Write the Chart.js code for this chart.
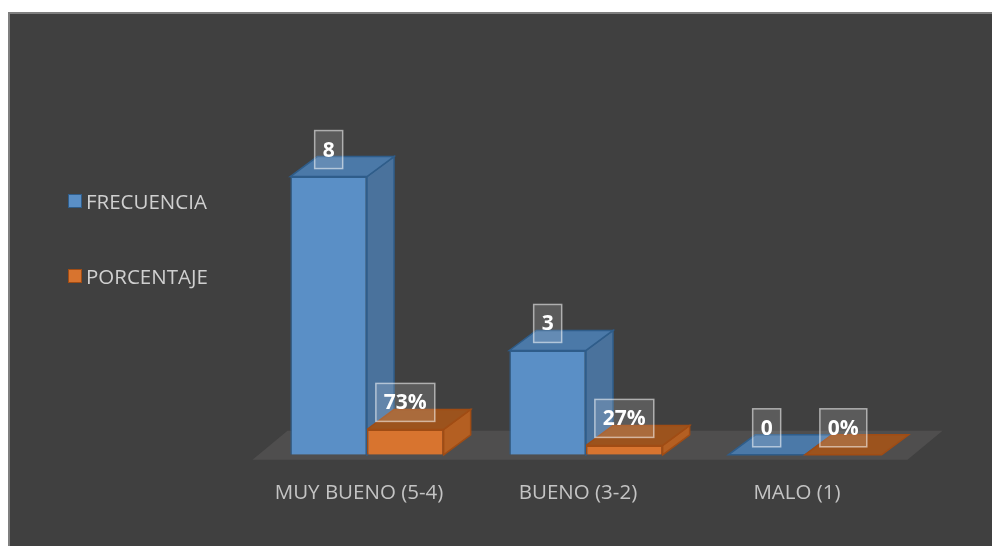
<!DOCTYPE html>
<html>
<head>
<meta charset="utf-8">
<script src="https://cdn.jsdelivr.net/npm/chart.js@4"></script>
<style>
  body { margin: 0; background: #ffffff; width: 992px; height: 546px; overflow: hidden; position: relative; }
  #frame { position: absolute; left: 8px; top: 12px; width: 1000px; height: 560px; background: #404040; border: 2px solid #7f7f7f; }
  #chart { position: absolute; left: 0; top: 0; }
  .leg { position: absolute; left: 68px; height: 22px; display: flex; align-items: center; font-family: "Open Sans", sans-serif; font-size: 20.5px; color: #d0d0d0; }
  .leg span { display: inline-block; width: 12px; height: 12px; border: 1.5px solid; margin-right: 4px; }
</style>
</head>
<body>
<div id="frame"></div>
<canvas id="chart" width="992" height="546"></canvas>
<div id="legend"></div>
<script>
// Datos del gráfico
var categories = ['MUY BUENO (5-4)', 'BUENO (3-2)', 'MALO (1)'];
var seriesNames = ['FRECUENCIA', 'PORCENTAJE'];
var frecuencia = [8, 3, 0];
var porcentaje = [0.73, 0.27, 0];

var colors = [
  { front: '#5a8fc6', side: '#4a729c', top: '#4b79a8', edge: '#2f5d8a' },
  { front: '#d8742f', side: '#b45f22', top: '#9c531d', edge: '#a04c14' }
];

// Leyenda a la izquierda
var legendTop = [190, 265];
var legendEl = document.getElementById('legend');
seriesNames.forEach(function (name, i) {
  var d = document.createElement('div');
  d.className = 'leg';
  d.style.top = legendTop[i] + 'px';
  d.innerHTML = '<span style="background:' + colors[i].front + ';border-color:' + colors[i].edge + '"></span>' + name;
  legendEl.appendChild(d);
});

var dx = 27, dy = 20;

function poly(ctx, pts, fill, stroke) {
  ctx.beginPath();
  ctx.moveTo(pts[0][0], pts[0][1]);
  for (var k = 1; k < pts.length; k++) ctx.lineTo(pts[k][0], pts[k][1]);
  ctx.closePath();
  ctx.fillStyle = fill;
  ctx.fill();
  if (stroke) {
    ctx.strokeStyle = stroke;
    ctx.lineWidth = 1.5;
    ctx.stroke();
  }
}

// Efecto 3D: suelo, caras laterales y superiores
var bars3d = {
  id: 'bars3d',
  beforeDatasetsDraw: function (chart) {
    var ctx = chart.ctx, a = chart.chartArea;
    ctx.save();
    poly(ctx, [[a.left - 5, a.bottom + 5], [a.right - 7, a.bottom + 5],
      [a.right + 28, a.bottom - 24], [a.left + 30, a.bottom - 24]], '#4f4e4e');
    chart.data.datasets.forEach(function (ds, i) {
      var meta = chart.getDatasetMeta(i);
      meta.data.forEach(function (bar) {
        var l = bar.x - bar.width / 2, r = bar.x + bar.width / 2, t = bar.y, b = bar.base;
        if (b - t > 0.5) {
          poly(ctx, [[r, b], [r + dx, b - dy], [r + dx, t - dy], [r, t]], colors[i].side, colors[i].edge);
        }
        poly(ctx, [[l, t], [r, t], [r + dx, t - dy], [l + dx, t - dy]], colors[i].top, colors[i].edge);
      });
    });
    ctx.restore();
  },
  afterDatasetsDraw: function (chart) {
    var ctx = chart.ctx;
    ctx.save();
    ctx.font = 'bold 21px "Open Sans", sans-serif';
    ctx.textAlign = 'center';
    ctx.textBaseline = 'middle';
    chart.data.datasets.forEach(function (ds, i) {
      var meta = chart.getDatasetMeta(i);
      meta.data.forEach(function (bar, j) {
        var v = ds.data[j];
        var txt = i === 0 ? String(v) : Math.round(v * 100) + '%';
        var w = ctx.measureText(txt).width + 16, h = 38;
        var cx = bar.x, cy = bar.y - 27;
        ctx.fillStyle = 'rgba(255,255,255,0.14)';
        ctx.fillRect(cx - w / 2, cy - h / 2, w, h);
        ctx.strokeStyle = 'rgba(255,255,255,0.55)';
        ctx.lineWidth = 1.5;
        ctx.strokeRect(cx - w / 2, cy - h / 2, w, h);
        ctx.fillStyle = '#ffffff';
        ctx.fillText(txt, cx, cy + 1);
      });
    });
    ctx.restore();
  }
};

new Chart(document.getElementById('chart'), {
  type: 'bar',
  data: {
    labels: categories,
    datasets: [
      { label: seriesNames[0], data: frecuencia, backgroundColor: colors[0].front, borderColor: colors[0].edge, borderWidth: 1.5 },
      { label: seriesNames[1], data: porcentaje, backgroundColor: colors[1].front, borderColor: colors[1].edge, borderWidth: 1.5 }
    ]
  },
  options: {
    responsive: false,
    animation: false,
    layout: { padding: { left: 257.5, right: 77.5, top: 107, bottom: 22.6 } },
    datasets: { bar: { categoryPercentage: 0.7, barPercentage: 1 } },
    plugins: { legend: { display: false }, tooltip: { enabled: false } },
    scales: {
      x: {
        grid: { display: false },
        border: { display: false },
        ticks: { color: '#c4c4c4', padding: 18, labelOffset: -8, font: { family: 'Open Sans', size: 20.5 } }
      },
      y: { display: false, min: 0, max: 10 }
    }
  },
  plugins: [bars3d]
});
</script>
</body>
</html>
